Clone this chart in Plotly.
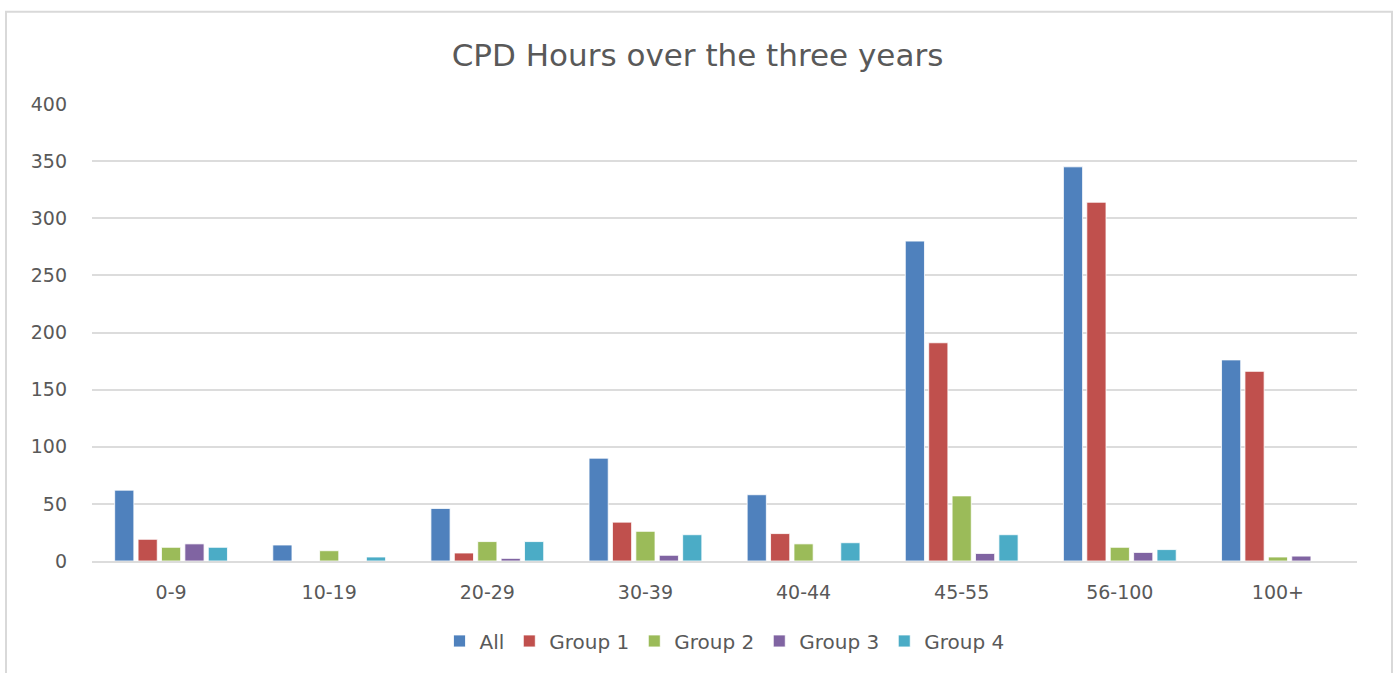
import plotly.graph_objects as go

categories = ["0-9", "10-19", "20-29", "30-39", "40-44", "45-55", "56-100", "100+"]
all_vals = [62, 14, 46, 90, 58, 280, 345, 176]
group1 = [19, 0, 7, 34, 24, 191, 314, 166]
group2 = [12, 9, 17, 26, 15, 57, 12, 3.5]
group3 = [15, 0, 2.3, 5, 0, 6.6, 7.5, 4.3]
group4 = [12, 3.5, 17, 23, 16, 23, 10, 0]

series = [
    ("All", all_vals, "#4F81BD"),
    ("Group 1", group1, "#C0504D"),
    ("Group 2", group2, "#9BBB59"),
    ("Group 3", group3, "#8064A2"),
    ("Group 4", group4, "#4BACC6"),
]

fig = go.Figure()
for name, vals, color in series:
    fig.add_trace(go.Bar(
        x=categories, y=vals, name=name,
        marker=dict(color=color, line=dict(color="rgba(255,255,255,0.8)", width=1)),
    ))

font_color = "#595959"
fam = "DejaVu Sans"
fig.update_layout(
    width=1395, height=673,
    margin=dict(l=92, r=38, t=104, b=108),
    paper_bgcolor="white", plot_bgcolor="white",
    font=dict(family=fam, color=font_color, size=19),
    title=dict(text="CPD Hours over the three years", x=0.5, xanchor="center",
               y=1 - 55 / 673, yanchor="middle",
               font=dict(size=31, color=font_color, family=fam)),
    barmode="group", bargap=0.26, bargroupgap=0.18,
    showlegend=True,
    legend=dict(orientation="h", x=0.5, xanchor="center", y=-0.175, yanchor="middle",
                font=dict(size=20, color=font_color, family=fam), itemwidth=30,
                traceorder="normal"),
    yaxis=dict(range=[0, 400], dtick=50, showgrid=True, gridcolor="#dcdcdc", gridwidth=2,
               zeroline=False, showline=False, ticks="",
               tickfont=dict(size=19, color=font_color, family=fam),
               ticklabelstandoff=24),
    xaxis=dict(showline=True, linecolor="#dcdcdc", linewidth=2, ticks="",
               tickfont=dict(size=19, color=font_color, family=fam), ticklabelstandoff=13),
)

fig.add_shape(type="rect", xref="paper", yref="paper",
              x0=-86 / 1265, x1=1300 / 1265, y0=-0.26, y1=(565 - 11) / 461,
              line=dict(color="#d9d9d9", width=2), fillcolor="rgba(0,0,0,0)", layer="below")

fig.write_html("out.html")
